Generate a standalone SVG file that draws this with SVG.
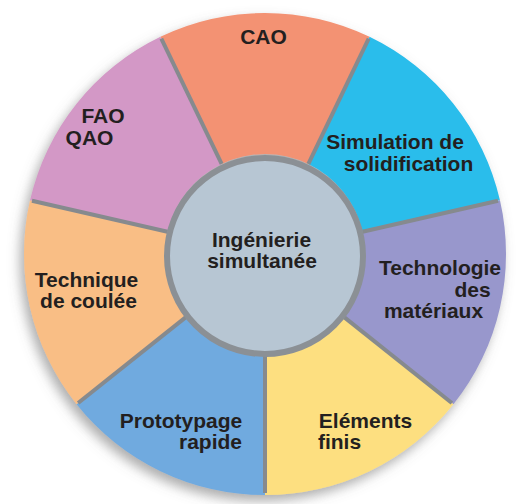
<svg xmlns="http://www.w3.org/2000/svg" width="522" height="504" viewBox="0 0 522 504">
  <defs>
    <filter id="shadow" x="-10%" y="-10%" width="120%" height="125%">
      <feGaussianBlur in="SourceAlpha" stdDeviation="6"/>
      <feOffset dx="-4" dy="6" result="b"/>
      <feFlood flood-color="#6b6b6b" flood-opacity="0.55"/>
      <feComposite in2="b" operator="in"/>
      <feMerge><feMergeNode/><feMergeNode in="SourceGraphic"/></feMerge>
    </filter>
    <style>
      .lbl { font-family: "Liberation Sans", Arial, sans-serif; font-weight: bold; font-size: 21px; fill: #231F20; text-anchor: middle; }
      .sep { stroke: #868a8e; stroke-width: 4; fill: none; }
    </style>
  </defs>
  <rect width="522" height="504" fill="#ffffff"/>
  <g id="wheel" filter="url(#shadow)">
    <g id="seg-cao">
      <path d="M160.44,36.87 A241,241 0 0 1 369.56,36.87 L308.39,163.90 A100,100 0 0 0 221.61,163.90 Z" fill="#F39273"/>
    </g>
    <g id="seg-simulation">
      <path d="M369.56,36.87 A241,241 0 0 1 499.96,200.37 L362.49,231.75 A100,100 0 0 0 308.39,163.90 Z" fill="#2BBDEB"/>
    </g>
    <g id="seg-technologie">
      <path d="M499.96,200.37 A241,241 0 0 1 453.42,404.26 L343.18,316.35 A100,100 0 0 0 362.49,231.75 Z" fill="#9897CC"/>
    </g>
    <g id="seg-elements">
      <path d="M453.42,404.26 A241,241 0 0 1 265,495 L265,354 A100,100 0 0 0 343.18,316.35 Z" fill="#FDDF80"/>
    </g>
    <g id="seg-prototypage">
      <path d="M265,495 A241,241 0 0 1 76.58,404.26 L186.82,316.35 A100,100 0 0 0 265,354 Z" fill="#70AADF"/>
    </g>
    <g id="seg-technique">
      <path d="M76.58,404.26 A241,241 0 0 1 30.04,200.37 L167.51,231.75 A100,100 0 0 0 186.82,316.35 Z" fill="#F9BE85"/>
    </g>
    <g id="seg-fao">
      <path d="M30.04,200.37 A241,241 0 0 1 160.44,36.87 L221.61,163.90 A100,100 0 0 0 167.51,231.75 Z" fill="#D398C6"/>
    </g>
    <g id="separators">
      <line class="sep" x1="265" y1="354" x2="265" y2="493"/>
      <line class="sep" x1="186.82" y1="316.35" x2="78.14" y2="403.01"/>
      <line class="sep" x1="167.51" y1="231.75" x2="31.99" y2="200.81"/>
      <line class="sep" x1="221.61" y1="163.90" x2="161.31" y2="38.67"/>
      <line class="sep" x1="308.39" y1="163.90" x2="368.69" y2="38.67"/>
      <line class="sep" x1="362.49" y1="231.75" x2="498.01" y2="200.81"/>
      <line class="sep" x1="343.18" y1="316.35" x2="451.86" y2="403.01"/>
    </g>
    <g id="center">
      <circle cx="265" cy="256" r="98" fill="#B7C6D3" stroke="#8B9095" stroke-width="6"/>
    </g>
  </g>
  <g id="labels">
    <text class="lbl" x="263.5" y="44">CAO</text>
    <text class="lbl" x="103" y="123">FAO</text>
    <text class="lbl" x="89.5" y="145">QAO</text>
    <text class="lbl" x="395" y="149">Simulation de</text>
    <text class="lbl" x="408.5" y="171">solidification</text>
    <text class="lbl" x="440" y="275">Technologie</text>
    <text class="lbl" x="472.5" y="297">des</text>
    <text class="lbl" x="433.5" y="318">matériaux</text>
    <text class="lbl" x="86.5" y="287">Technique</text>
    <text class="lbl" x="88.5" y="308">de coulée</text>
    <text class="lbl" x="261.5" y="247">Ingénierie</text>
    <text class="lbl" x="262" y="268">simultanée</text>
    <text class="lbl" x="181" y="428">Prototypage</text>
    <text class="lbl" x="210.5" y="449">rapide</text>
    <text class="lbl" x="365.5" y="428">Eléments</text>
    <text class="lbl" x="339.5" y="449">finis</text>
  </g>
</svg>
